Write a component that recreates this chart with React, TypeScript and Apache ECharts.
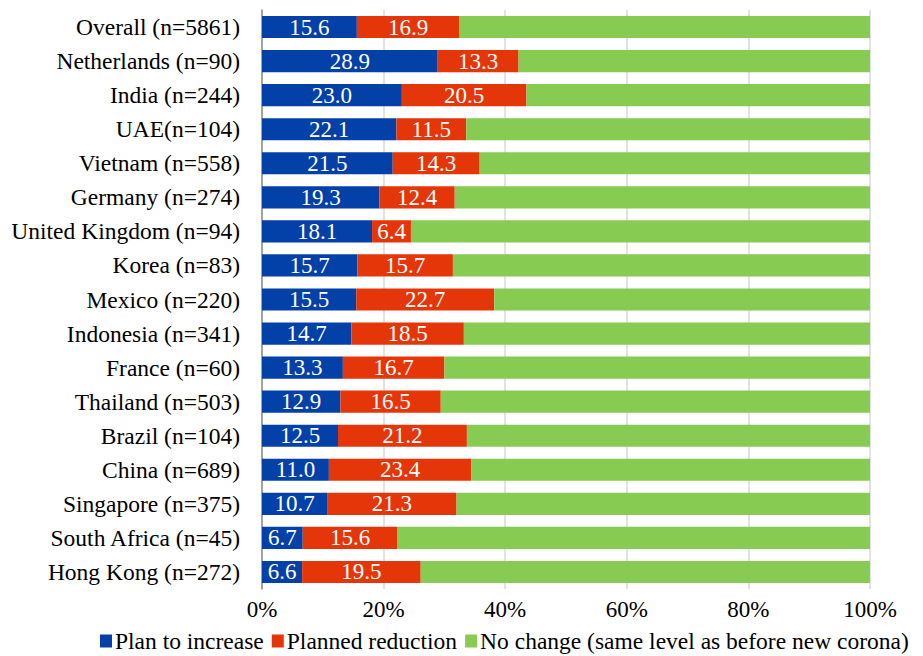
import React, { useEffect, useRef } from "react";
import * as echarts from "echarts";

const categories = [
  "Overall (n=5861)",
  "Netherlands (n=90)",
  "India (n=244)",
  "UAE(n=104)",
  "Vietnam (n=558)",
  "Germany (n=274)",
  "United Kingdom (n=94)",
  "Korea (n=83)",
  "Mexico (n=220)",
  "Indonesia (n=341)",
  "France (n=60)",
  "Thailand (n=503)",
  "Brazil (n=104)",
  "China (n=689)",
  "Singapore (n=375)",
  "South Africa (n=45)",
  "Hong Kong (n=272)",
];

const planToIncrease = [15.6, 28.9, 23.0, 22.1, 21.5, 19.3, 18.1, 15.7, 15.5, 14.7, 13.3, 12.9, 12.5, 11.0, 10.7, 6.7, 6.6];
const plannedReduction = [16.9, 13.3, 20.5, 11.5, 14.3, 12.4, 6.4, 15.7, 22.7, 18.5, 16.7, 16.5, 21.2, 23.4, 21.3, 15.6, 19.5];
const noChange = planToIncrease.map((v, i) => +(100 - v - plannedReduction[i]).toFixed(1));

const xTicks = [0, 20, 40, 60, 80, 100];

const FONT = "Liberation Serif";

export default function App() {
  const ref = useRef<HTMLDivElement>(null);

  useEffect(() => {
    if (!ref.current) return;
    const chart = echarts.init(ref.current, undefined, { renderer: "svg" });
    const label = {
      show: true,
      position: "inside",
      color: "#ffffff",
      fontFamily: FONT,
      fontSize: 23,
      formatter: (p: any) => Number(p.value).toFixed(1),
    };
    chart.setOption({
      animation: false,
      textStyle: { fontFamily: FONT },
      grid: { left: 262, right: 53, top: 10, bottom: 67, containLabel: false },
      legend: {
        top: 624,
        left: 95,
        itemWidth: 12,
        itemHeight: 13,
        itemGap: 8,
        icon: "rect",
        textStyle: { fontFamily: FONT, fontSize: 23.5, color: "#000", padding: [0, 0, 0, -2] },
        data: ["Plan to increase", "Planned reduction", "No change (same level as before new corona)"],
      },
      xAxis: {
        type: "value",
        min: xTicks[0],
        max: xTicks[xTicks.length - 1],
        interval: 20,
        axisLine: { show: false },
        axisTick: { show: false },
        splitLine: { show: true, lineStyle: { color: "#d9d9d9", width: 1.5 } },
        axisLabel: {
          formatter: (v: number) => `${v}%`,
          fontFamily: FONT,
          fontSize: 23,
          color: "#000",
          margin: 9,
        },
      },
      yAxis: {
        type: "category",
        inverse: true,
        data: categories,
        axisLine: { show: true, lineStyle: { color: "#8c8c8c", width: 1.5 } },
        axisTick: { show: false },
        axisLabel: { fontFamily: FONT, fontSize: 23.5, color: "#000", margin: 22 },
      },
      series: [
        {
          name: "Plan to increase",
          type: "bar",
          stack: "total",
          barWidth: "65%",
          data: planToIncrease,
          itemStyle: { color: "#0340a8" },
          label,
        },
        {
          name: "Planned reduction",
          type: "bar",
          stack: "total",
          data: plannedReduction,
          itemStyle: { color: "#e5360a" },
          label,
        },
        {
          name: "No change (same level as before new corona)",
          type: "bar",
          stack: "total",
          data: noChange,
          itemStyle: { color: "#88cb52" },
          label: { show: false },
        },
      ],
    });
    return () => chart.dispose();
  }, []);

  return <div ref={ref} style={{ width: 923, height: 656, position: "absolute", left: 0, top: 0 }} />;
}
